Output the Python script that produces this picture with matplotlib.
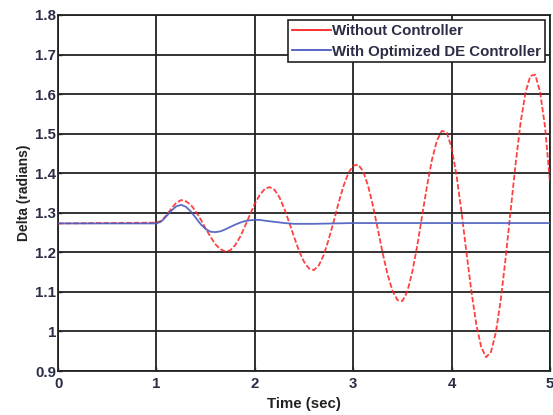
import matplotlib
matplotlib.use("Agg")
import matplotlib.pyplot as plt
from matplotlib.lines import Line2D

# Data
t_red = [0.0, 1.00, 1.05, 1.10, 1.15, 1.20, 1.25, 1.30, 1.35, 1.40, 1.45, 1.50, 1.55, 1.60, 1.65,
         1.70, 1.75, 1.80, 1.85, 1.90, 1.95, 2.00, 2.05, 2.10, 2.15, 2.20, 2.25, 2.30, 2.35,
         2.40, 2.45, 2.50, 2.55, 2.60, 2.65, 2.70, 2.75, 2.80, 2.85, 2.90, 2.95, 3.00, 3.05,
         3.10, 3.15, 3.20, 3.25, 3.30, 3.35, 3.40, 3.45, 3.50, 3.55, 3.60, 3.65, 3.70, 3.75,
         3.80, 3.85, 3.90, 3.95, 4.00, 4.05, 4.10, 4.15, 4.20, 4.25, 4.30, 4.35, 4.40, 4.45,
         4.50, 4.55, 4.60, 4.65, 4.70, 4.75, 4.80, 4.85, 4.90, 4.95, 5.00]
delta_red = [1.273, 1.275, 1.280, 1.293, 1.310, 1.325, 1.332, 1.329, 1.320, 1.303, 1.283, 1.260,
             1.239, 1.220, 1.208, 1.202, 1.205, 1.218, 1.239, 1.266, 1.295, 1.323, 1.345, 1.360,
             1.365, 1.358, 1.339, 1.310, 1.275, 1.238, 1.203, 1.176, 1.159, 1.155, 1.167, 1.193,
             1.232, 1.277, 1.324, 1.367, 1.400, 1.419, 1.422, 1.405, 1.369, 1.318, 1.258, 1.197,
             1.143, 1.102, 1.079, 1.077, 1.101, 1.150, 1.216, 1.292, 1.368, 1.434, 1.482, 1.507,
             1.503, 1.464, 1.394, 1.303, 1.201, 1.103, 1.019, 0.961, 0.935, 0.948, 0.998, 1.081,
             1.188, 1.306, 1.423, 1.526, 1.603, 1.646, 1.649, 1.604, 1.516, 1.375]

t_blue = [0.0, 1.00, 1.05, 1.10, 1.15, 1.20, 1.25, 1.30, 1.35, 1.40, 1.45, 1.50, 1.55, 1.60,
          1.65, 1.70, 1.75, 1.80, 1.85, 1.90, 1.95, 2.00, 2.05, 2.10, 2.20, 2.30, 2.40, 2.60,
          2.80, 3.00, 5.00]
delta_blue = [1.273, 1.273, 1.278, 1.291, 1.305, 1.316, 1.320, 1.315, 1.303, 1.287, 1.271,
              1.259, 1.252, 1.251, 1.253, 1.258, 1.264, 1.270, 1.275, 1.279, 1.281, 1.282,
              1.282, 1.280, 1.277, 1.274, 1.272, 1.272, 1.273, 1.274, 1.274]

labels = ["Without Controller", "With Optimized DE Controller"]
x_ticks = [0, 1, 2, 3, 4, 5]
y_ticks = [0.9, 1.0, 1.1, 1.2, 1.3, 1.4, 1.5, 1.6, 1.7, 1.8]
y_tick_labels = ["0.9", "1", "1.1", "1.2", "1.3", "1.4", "1.5", "1.6", "1.7", "1.8"]

plt.rcParams['font.family'] = ['Liberation Sans', 'DejaVu Sans']
plt.rcParams['font.weight'] = 'bold'

fig = plt.figure(figsize=(5.53, 4.15), dpi=100)
ax = fig.add_axes([0.105, 0.106, 0.8896, 0.858])

red_c = '#ff2020'
blue_c = '#4a5cc0'
ax.plot(t_red, delta_red, color=red_c, lw=1.3, ls=(0, (3, 1.2)), alpha=0.85, zorder=3)
ax.plot(t_blue, delta_blue, color=blue_c, lw=1.3, alpha=0.9, zorder=4)

ax.set_xlim(0, 5)
ax.set_ylim(0.9, 1.8)
ax.set_xticks(x_ticks)
ax.set_yticks(y_ticks)
ax.set_yticklabels(y_tick_labels)
ax.grid(True, color='#222222', lw=1.3, ls='-')
ax.set_axisbelow(True)
ax.tick_params(direction='in', length=3, width=1, labelsize=10.8, colors='#222222')
ax.tick_params(axis='x', pad=4.5)
ax.tick_params(axis='y', pad=1.5)
for lab in ax.get_xticklabels() + ax.get_yticklabels():
    lab.set_fontweight('bold')
    lab.set_color('#2a2d45')
for s in ax.spines.values():
    s.set_color('#222222')
    s.set_linewidth(1.3)

ax.set_xlabel('Time (sec)', fontsize=10.8, fontweight='bold', color='#222222', labelpad=4)
ax.set_ylabel('Delta (radians)', fontsize=10, fontweight='bold', color='#222222', labelpad=3)

handles = [Line2D([0], [0], color=red_c, lw=1.3), Line2D([0], [0], color=blue_c, lw=1.3)]
leg = ax.legend(handles, labels, loc='upper right',
                prop={'weight': 'bold', 'size': 10.8},
                frameon=True, fancybox=False, framealpha=1, edgecolor='#222222',
                borderaxespad=0.35, borderpad=0.25, handlelength=2.6, handletextpad=0.1,
                labelspacing=0.45)
leg.get_frame().set_linewidth(1.2)
for txt in leg.get_texts():
    txt.set_color('#2a2d45')

fig.savefig('out.png', dpi=100)
